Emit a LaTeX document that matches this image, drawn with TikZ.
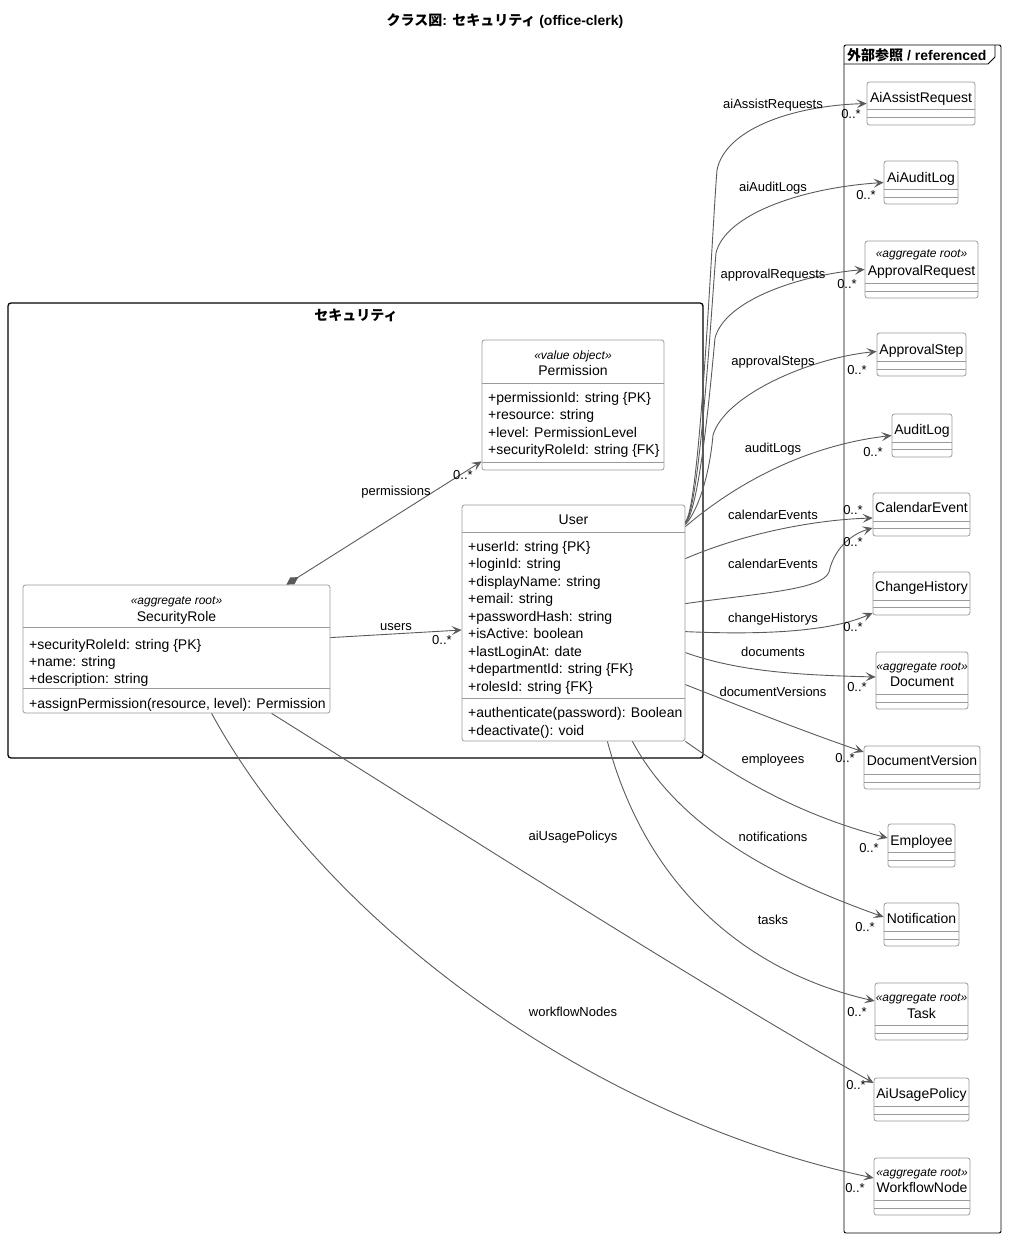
\documentclass[tikz,border=0pt]{standalone}
\usepackage{fontspec}
\setmainfont{Liberation Sans}
\newfontfamily\cjk{Noto Sans CJK JP}
\usetikzlibrary{arrows.meta}
\definecolor{edgec}{HTML}{5A5A5A}
\definecolor{boxc}{HTML}{9A9A9A}
\newcommand\umlbox[5]{\node[cls,minimum width={(#4)-(#2)},minimum height={(#5)-(#3)}] (#1) at ({((#2)+(#4))/2},{((#3)+(#5))/2}) {};}
\newcommand\umlsep[3]{\draw[sepl] (#1,#3) -- (#2,#3);}
\begin{document}
\begin{tikzpicture}[x=1pt,y=-1pt,
  cls/.style={draw=boxc, line width=0.8pt, rounded corners=2.5pt, inner sep=0pt},
  sepl/.style={draw=boxc, line width=0.8pt},
  pkg/.style={draw=black, line width=1.3pt, rounded corners=3pt, inner sep=0pt},
  frm/.style={draw=black, line width=0.9pt, rounded corners=2pt, inner sep=0pt},
  tx/.style={inner sep=0pt, anchor=base, font=\fontsize{14}{16}\selectfont},
  txw/.style={tx, anchor=base west},
  st/.style={inner sep=0pt, anchor=base, font=\fontsize{12}{14}\selectfont\itshape},
  el/.style={inner sep=0pt, anchor=base, font=\fontsize{13}{15}\selectfont},
  assoc/.style={draw=edgec, line width=0.9pt, -{Stealth[length=10pt,width=9pt,inset=4.5pt]}},
  comp/.style={draw=edgec, line width=0.9pt, {Diamond[length=14pt,width=8pt,fill=edgec]}-{Stealth[length=10pt,width=9pt,inset=4.5pt]}}
]
\useasboundingbox (0,0) rectangle (1014,1245);

% title
\node[tx,font=\fontsize{14}{16}\selectfont\bfseries] (title) at (505,25) {{\cjk\bfseries クラス図}: {\cjk\bfseries セキュリティ} (office-clerk)};

% packages
\node[pkg, minimum width=695, minimum height=455] (secpkg) at (355.5,530.5) {};
\node[tx,font=\fontsize{14}{16}\selectfont\bfseries\cjk] (secT) at (356,320) {セキュリティ};

\node[frm, minimum width=157, minimum height=1188] (refpkg) at (922.5,639) {};
\draw[black,line width=0.9pt] (844,64) -- (988,64) -- (995,57) -- (995,45);
\node[txw,font=\fontsize{14}{16}\selectfont\bfseries] (refT) at (847,60) {{\cjk\bfseries 外部参照} / referenced};

% Permission
\umlbox{Permission}{482}{340}{664}{470}
\umlsep{482}{664}{383}\umlsep{482}{664}{462}
\node[st] (permS) at (573,359) {«value object»};
\node[tx] (permN) at (573,375) {Permission};
\node[txw] (permA1) at (488,402) {+permissionId: string \{PK\}};
\node[txw] (permA2) at (488,419.5) {+resource: string};
\node[txw] (permA3) at (488,437) {+level: PermissionLevel};
\node[txw] (permA4) at (488,454.5) {+securityRoleId: string \{FK\}};

% SecurityRole
\umlbox{SecurityRole}{23}{585}{330}{713}
\umlsep{23}{330}{627}\umlsep{23}{330}{688}
\node[st] (srS) at (176.5,604) {«aggregate root»};
\node[tx] (srN) at (176.5,621) {SecurityRole};
\node[txw] (srA1) at (29,649) {+securityRoleId: string \{PK\}};
\node[txw] (srA2) at (29,666) {+name: string};
\node[txw] (srA3) at (29,683) {+description: string};
\node[txw] (srM1) at (29,708) {+assignPermission(resource, level): Permission};

% User
\umlbox{User}{462}{505}{685}{741}
\umlsep{462}{685}{532}\umlsep{462}{685}{698}
\node[tx] (uN) at (573.5,524) {User};
\node[txw] (uA1) at (468,551) {+userId: string \{PK\}};
\node[txw] (uA2) at (468,568.5) {+loginId: string};
\node[txw] (uA3) at (468,586) {+displayName: string};
\node[txw] (uA4) at (468,603.5) {+email: string};
\node[txw] (uA5) at (468,621) {+passwordHash: string};
\node[txw] (uA6) at (468,638.5) {+isActive: boolean};
\node[txw] (uA7) at (468,656) {+lastLoginAt: date};
\node[txw] (uA8) at (468,673.5) {+departmentId: string \{FK\}};
\node[txw] (uA9) at (468,691) {+rolesId: string \{FK\}};
\node[txw] (uM1) at (468,717) {+authenticate(password): Boolean};
\node[txw] (uM2) at (468,735) {+deactivate(): void};

% referenced classes
\umlbox{AiAssistRequest}{867}{82}{975}{125}
\umlsep{867}{975}{109}\umlsep{867}{975}{117}
\node[tx] (aarN) at (921,102) {AiAssistRequest};

\umlbox{AiAuditLog}{884}{161}{958}{204}
\umlsep{884}{958}{189}\umlsep{884}{958}{197}
\node[tx] (aalN) at (921,182) {AiAuditLog};

\umlbox{ApprovalRequest}{865}{241}{978}{298}
\umlsep{865}{978}{283}\umlsep{865}{978}{291}
\node[st] (arS) at (921.5,257) {«aggregate root»};
\node[tx] (arN) at (921.5,275) {ApprovalRequest};

\umlbox{ApprovalStep}{877}{333}{966}{376}
\umlsep{877}{966}{361}\umlsep{877}{966}{369}
\node[tx] (asN) at (921.5,354) {ApprovalStep};

\umlbox{AuditLog}{892}{414}{952}{457}
\umlsep{892}{952}{442}\umlsep{892}{952}{449}
\node[tx] (alN) at (922,434) {AuditLog};

\umlbox{CalendarEvent}{873}{493}{970}{536}
\umlsep{873}{970}{521}\umlsep{873}{970}{528}
\node[tx] (ceN) at (921.5,512) {CalendarEvent};

\umlbox{ChangeHistory}{873}{572}{970}{615}
\umlsep{873}{970}{600}\umlsep{873}{970}{607}
\node[tx] (chN) at (921.5,591) {ChangeHistory};

\umlbox{Document}{876}{652}{968}{709}
\umlsep{876}{968}{694}\umlsep{876}{968}{702}
\node[st] (docS) at (922,670) {«aggregate root»};
\node[tx] (docN) at (922,686) {Document};

\umlbox{DocumentVersion}{864}{746}{980}{789}
\umlsep{864}{980}{774}\umlsep{864}{980}{782}
\node[tx] (dvN) at (922,765) {DocumentVersion};

\umlbox{Employee}{888}{824}{955}{867}
\umlsep{888}{955}{852}\umlsep{888}{955}{860}
\node[tx] (empN) at (921.5,845) {Employee};

\umlbox{Notification}{884}{903}{959}{946}
\umlsep{884}{959}{931}\umlsep{884}{959}{939}
\node[tx] (notN) at (921.5,923) {Notification};

\umlbox{Task}{875}{983}{968}{1040}
\umlsep{875}{968}{1025}\umlsep{875}{968}{1033}
\node[st] (taskS) at (921.5,1001) {«aggregate root»};
\node[tx] (taskN) at (921.5,1018) {Task};

\umlbox{AiUsagePolicy}{874}{1078}{969}{1121}
\umlsep{874}{969}{1106}\umlsep{874}{969}{1114}
\node[tx] (aupN) at (921.5,1098) {AiUsagePolicy};

\umlbox{WorkflowNode}{874}{1158}{970}{1215}
\umlsep{874}{970}{1200}\umlsep{874}{970}{1208}
\node[st] (wnS) at (922,1176) {«aggregate root»};
\node[tx] (wnN) at (922,1192) {WorkflowNode};

% edges
\draw[comp] ([xshift=-44pt]SecurityRole.north east) -- ([yshift=9pt]Permission.south west);
\draw[assoc] ([yshift=-53pt]SecurityRole.north east) -- ([yshift=-7pt]User.west);

\draw[assoc] ([yshift=-17pt]User.north east) .. controls (700,508) and (712,230) .. (717,170) .. controls (725,130) and (790,106) .. (AiAssistRequest.west);
\draw[assoc] ([yshift=-18pt]User.north east) .. controls (700,508) and (712,300) .. (716,253) .. controls (725,215) and (800,188) .. (AiAuditLog.west);
\draw[assoc] ([yshift=-19pt]User.north east) .. controls (700,508) and (711,380) .. (715,338) .. controls (725,300) and (800,275) .. (ApprovalRequest.west);
\draw[assoc] ([yshift=-20pt]User.north east) .. controls (700,508) and (710,470) .. (713,435) .. controls (725,395) and (810,358) .. ([yshift=3pt]ApprovalStep.west);
\draw[assoc] ([yshift=-22pt]User.north east) .. controls (740,480) and (810,445) .. (AuditLog.west);
\draw[assoc] ([yshift=-54pt]User.north east) .. controls (740,535) and (810,520) .. ([yshift=-3.5pt]CalendarEvent.west);
\draw[assoc] ([yshift=-99pt]User.north east) .. controls (760,593) and (822,590) .. (829,572) .. controls (835,545) and (855,533) .. ([yshift=-13.5pt]CalendarEvent.west);
\draw[assoc] ([yshift=-127pt]User.north east) .. controls (760,635) and (830,632) .. ([yshift=-19.5pt]ChangeHistory.west);
\draw[assoc] ([yshift=-148pt]User.north east) .. controls (740,672) and (800,675) .. ([yshift=3.5pt]Document.west);
\draw[assoc] ([yshift=-180pt]User.north east) .. controls (750,710) and (800,730) .. ([yshift=15.5pt]DocumentVersion.west);
\draw[assoc] (User.south east) .. controls (740,780) and (800,815) .. ([yshift=7.5pt]Employee.west);
\draw[assoc] ([xshift=-53pt]User.south east) .. controls (680,830) and (780,880) .. ([yshift=7.5pt]Notification.west);
\draw[assoc] ([xshift=-78pt]User.south east) .. controls (650,900) and (760,975) .. ([yshift=10.5pt]Task.west);
\draw[assoc] ([xshift=249pt]SecurityRole.south west) .. controls (450,825) and (700,985) .. ([yshift=16.5pt]AiUsagePolicy.west);
\draw[assoc] ([xshift=189pt]SecurityRole.south west) .. controls (330,930) and (600,1120) .. ([yshift=8.5pt]WorkflowNode.west);

% edge labels
\node[el] (lPerm) at (396,495.5) {permissions};
\node[el] (lUsers) at (396,630.5) {users};
\node[el] (lAar) at (773,108.5) {aiAssistRequests};
\node[el] (lAal) at (773,191.5) {aiAuditLogs};
\node[el] (lAr) at (773,278.5) {approvalRequests};
\node[el] (lAs) at (773,365.5) {approvalSteps};
\node[el] (lAl) at (773,452.5) {auditLogs};
\node[el] (lCe1) at (773,519.5) {calendarEvents};
\node[el] (lCe2) at (773,568.5) {calendarEvents};
\node[el] (lCh) at (773,622.5) {changeHistorys};
\node[el] (lDoc) at (773,656.5) {documents};
\node[el] (lDv) at (773,696.5) {documentVersions};
\node[el] (lEmp) at (773,763.5) {employees};
\node[el] (lNot) at (773,841.5) {notifications};
\node[el] (lTask) at (773,924.5) {tasks};
\node[el] (lAup) at (573,840.5) {aiUsagePolicys};
\node[el] (lWn) at (573,1016.5) {workflowNodes};

% multiplicities
\node[el] (mPerm) at (463,479.5) {0..*};
\node[el] (mUsers) at (442,644.5) {0..*};
\node[el] (mAar) at (851,118.5) {0..*};
\node[el] (mAal) at (866,199.5) {0..*};
\node[el] (mAr) at (847,288.5) {0..*};
\node[el] (mAs) at (857,374.5) {0..*};
\node[el] (mAl) at (873,456.5) {0..*};
\node[el] (mCe1) at (853,514.5) {0..*};
\node[el] (mCe2) at (853,546.5) {0..*};
\node[el] (mCh) at (853,631.5) {0..*};
\node[el] (mDoc) at (857,691.5) {0..*};
\node[el] (mDv) at (845,762.5) {0..*};
\node[el] (mEmp) at (869,852.5) {0..*};
\node[el] (mNot) at (865,931.5) {0..*};
\node[el] (mTask) at (857,1016.5) {0..*};
\node[el] (mAup) at (856,1089.5) {0..*};
\node[el] (mWn) at (855,1192.5) {0..*};
\end{tikzpicture}
\end{document}
